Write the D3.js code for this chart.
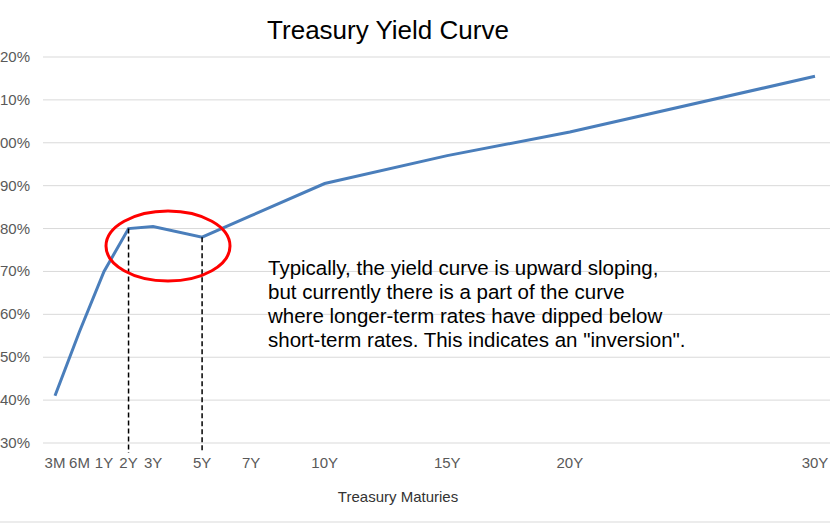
<!DOCTYPE html>
<html><head><meta charset="utf-8">
<script src="https://cdn.jsdelivr.net/npm/d3@7"></script>
<style>body{margin:0;background:#fff}svg{display:block}</style>
</head><body>
<script>
const categories=["3M","6M","1Y","2Y","3Y","5Y","7Y","10Y","15Y","20Y","30Y"];
const positions=[0,1,2,3,4,6,8,11,16,21,31];
const yields=[2.41,2.56,2.70,2.80,2.805,2.78,2.83,2.905,2.97,3.025,3.155];
const yTicks=[2.3,2.4,2.5,2.6,2.7,2.8,2.9,3.0,3.1,3.2];
const note=["Typically, the yield curve is upward sloping,","but currently there is a part of the curve","where longer-term rates have dipped below","short-term rates. This indicates an \"inversion\"."];

const W=830,H=530;
const svg=d3.select("body").append("svg").attr("width",W).attr("height",H);
const x=d3.scaleLinear().domain([0,31]).range([55,815]);
const y=d3.scaleLinear().domain([2.3,3.2]).range([443,57]);
const font="Liberation Sans, Arial, sans-serif";

svg.append("line").attr("x1",0).attr("x2",W).attr("y1",H-8).attr("y2",H-8).attr("stroke","#d9d9d9");
svg.selectAll(".g").data(yTicks).join("line").attr("x1",43).attr("x2",W).attr("y1",d=>y(d)).attr("y2",d=>y(d)).attr("stroke","#d9d9d9");
svg.selectAll(".yl").data(yTicks).join("text").attr("x",30).attr("y",d=>y(d)+5).attr("text-anchor","end")
 .attr("font-family",font).attr("font-size",15).attr("fill","#595959").text(d=>d.toFixed(2)+"%");
svg.selectAll(".xl").data(categories).join("text").attr("x",(d,i)=>x(positions[i])).attr("y",468).attr("text-anchor","middle")
 .attr("font-family",font).attr("font-size",15).attr("fill","#595959").text(d=>d);
svg.append("text").attr("x",398).attr("y",502).attr("text-anchor","middle").attr("font-family",font).attr("font-size",15).attr("fill","#333").text("Treasury Maturies");
svg.append("text").attr("x",388).attr("y",39).attr("text-anchor","middle").attr("font-family",font).attr("font-size",26).attr("fill","#000").text("Treasury Yield Curve");

const line=d3.line().x((d,i)=>x(positions[i])).y(d=>y(d));
svg.append("path").datum(yields).attr("d",line).attr("fill","none").attr("stroke","#4a7ebb").attr("stroke-width",3);

[3,5].forEach(i=>svg.append("line").attr("x1",x(positions[i])).attr("x2",x(positions[i])).attr("y1",y(yields[i])).attr("y2",453)
 .attr("stroke","#000").attr("stroke-width",1.5).attr("stroke-dasharray","5,3"));
svg.append("ellipse").attr("cx",168).attr("cy",246).attr("rx",62).attr("ry",35).attr("fill","none").attr("stroke","#ff0000").attr("stroke-width",3);

svg.selectAll(".n").data(note).join("text").attr("x",268).attr("y",(d,i)=>275+i*24).attr("font-family",font).attr("font-size",20.5).attr("fill","#000").text(d=>d);
</script>
</body></html>
